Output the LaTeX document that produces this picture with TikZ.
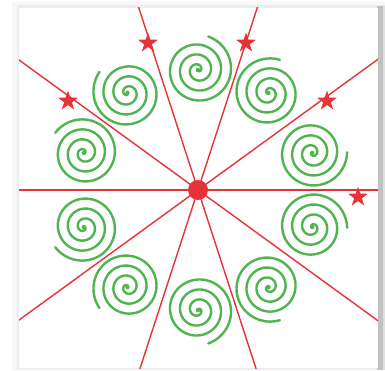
\documentclass[tikz,border=0pt]{standalone}
\usetikzlibrary{shapes.geometric,calc}
\definecolor{mred}{RGB}{232,50,58}
\definecolor{mgreen}{RGB}{80,180,80}
\tikzset{
  mirror/.style={draw=mred, line width=1.4pt},
  spiralline/.style={draw=mgreen, line width=2.4pt, line cap=round},
  starmark/.style={star, star points=5, star point ratio=2.6, fill=mred, draw=none, minimum size=21pt, inner sep=0pt},
}
\begin{document}
\begin{tikzpicture}[x=1pt,y=1pt]
\useasboundingbox (0,0) rectangle (385,370);
% frame and shadow
\fill[white] (0,0) rectangle (385,370);
\fill[black!3] (12,0) rectangle (385,368);
\fill[black!7] (17,0) rectangle (385,365);
\fill[black!24] (377,0) rectangle (383,364);
\fill[black!12] (383,0) rectangle (385,364);
\fill[white] (19,2) rectangle (378,362);
\coordinate (O) at (198,180);
\begin{scope}
\clip (19,2) rectangle (378,362);
\foreach \a in {0,36,72,108,144}{
  \draw[mirror] ($(O)+(\a:320)$) -- ($(O)+(\a+180:320)$);
}
\end{scope}
% spirals
\foreach \k in {0,...,9}{
  \pgfmathsetmacro{\p}{90+36*\k}
  \pgfmathsetmacro{\s}{ifthenelse(mod(\k,2)==0,1,-1)}
  \pgfmathsetmacro{\e}{\p-17*\s}
  \pgfmathsetmacro{\f}{\e-\s*1260}
  \begin{scope}[shift={(198,180)}, shift={(\p:120)}]
    \draw[spiralline] plot[domain=0:1260, samples=260, variable=\t, smooth]
      ({\t/36*cos(\f+\s*\t)}, {\t/36*sin(\f+\s*\t)});
    \fill[mgreen] (0,0) circle (2.2pt);
  \end{scope}
}
% centre
\node[circle, fill=mred, minimum size=20pt, inner sep=0pt] (c) at (O) {};
% stars
\node[starmark] (s1) at (68,269) {};
\node[starmark] (s2) at (148,327) {};
\node[starmark] (s3) at (246,327) {};
\node[starmark] (s4) at (327,269) {};
\node[starmark] (s5) at (358,173) {};
\end{tikzpicture}
\end{document}
